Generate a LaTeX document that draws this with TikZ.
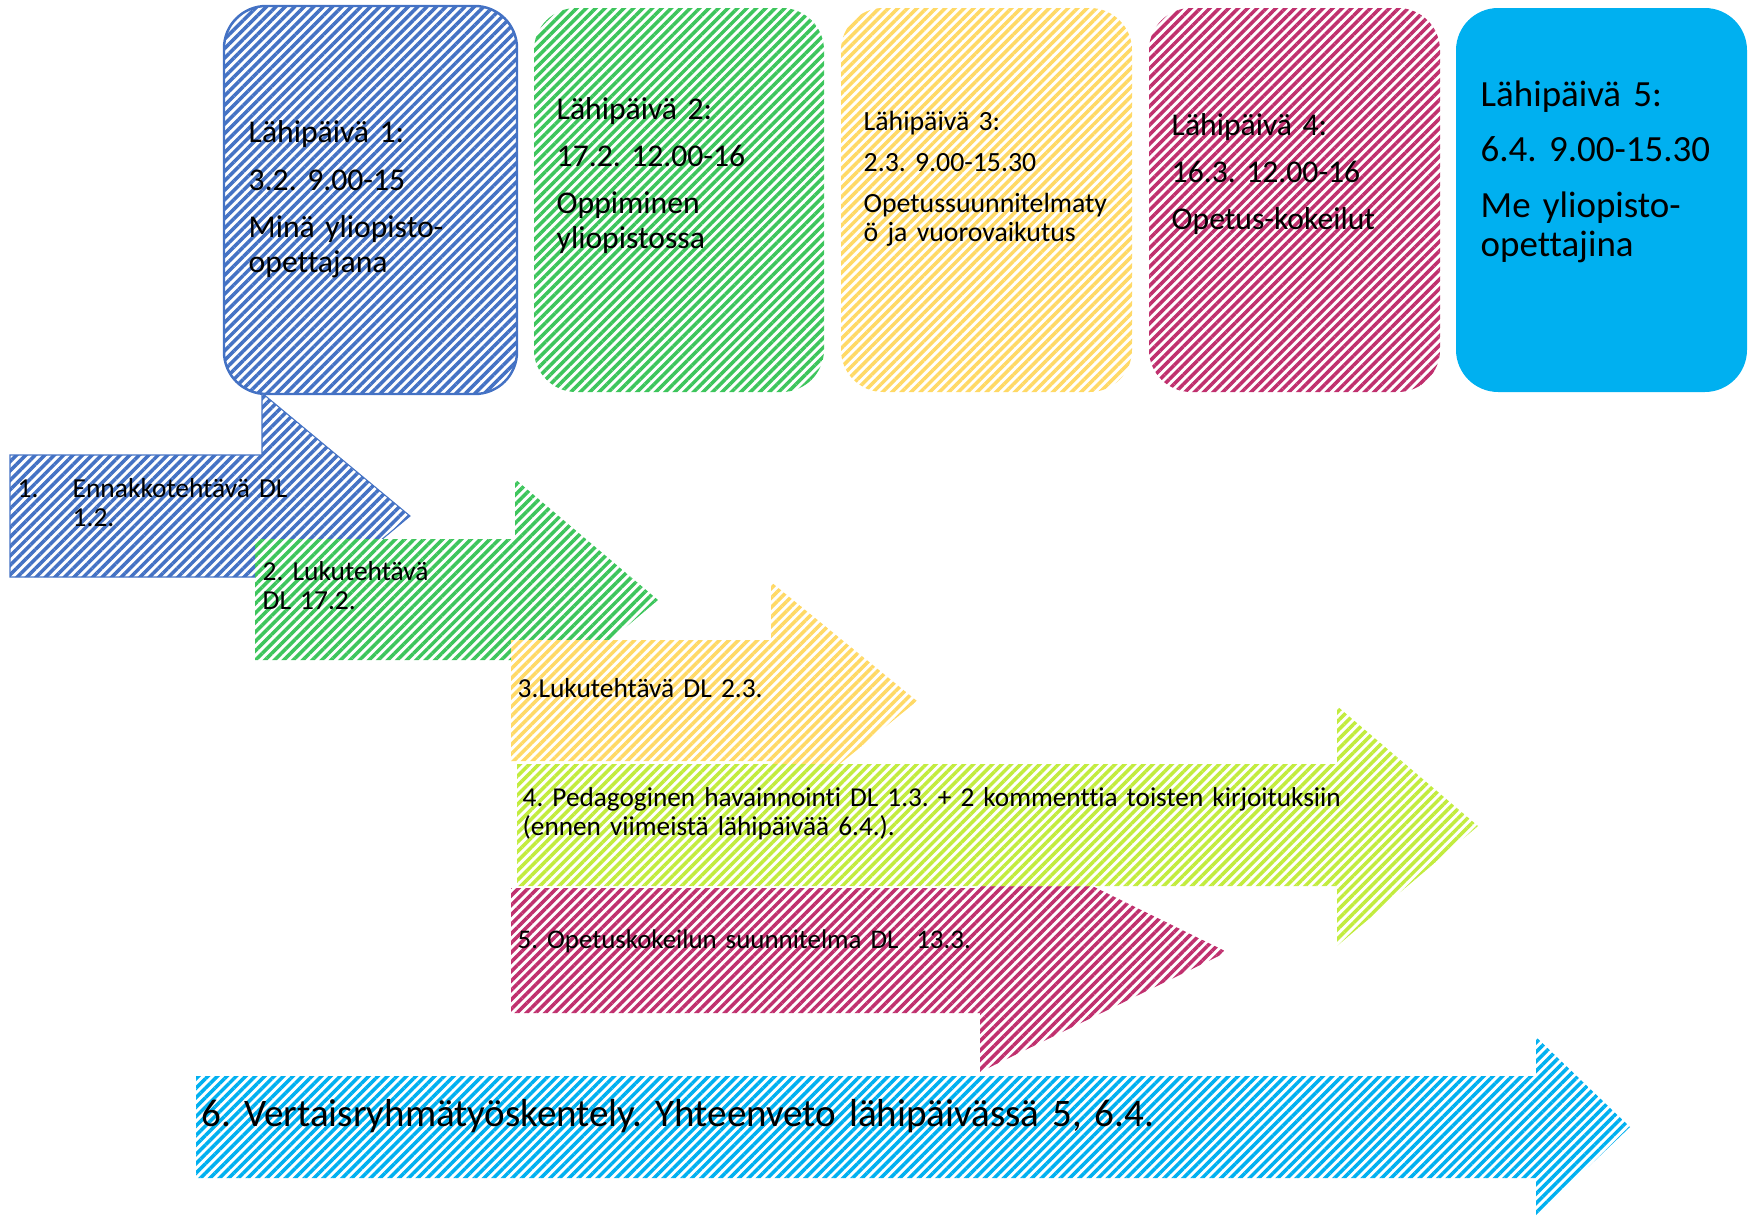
\documentclass[tikz,border=0pt]{standalone}
\usepackage{fontspec}
\setmainfont{Carlito}[Ligatures=NoCommon]
\usetikzlibrary{patterns.meta}
\definecolor{dayblue}{HTML}{4472C4}
\definecolor{daygreen}{HTML}{3DC55C}
\definecolor{dayyellow}{HTML}{FFD966}
\definecolor{daylime}{HTML}{C2EC3E}
\definecolor{daypink}{HTML}{C0306E}
\definecolor{daycyan}{HTML}{00B0F0}
\tikzset{
	stripes/.style={preaction={fill=white}, pattern={Lines[angle=45,distance=1.9pt,line width=1pt]}, pattern color=#1},
	daybox/.style={rounded corners=12pt},
	txt/.style={inner sep=0pt, anchor=base west, align=left, text width=#1},
	txt/.default=5cm
}
\def\daysize{\fontsize{9pt}{9.7pt}\selectfont}
\def\tasksize{\fontsize{7.8pt}{8.5pt}\selectfont}
\frenchspacing

\begin{document}
\begin{tikzpicture}[x=0.01cm, y=-0.01cm]
		\useasboundingbox (0,0) rectangle (1754,1218);
		%%%%% START %%%%%
		
		% contact days
		\draw[daybox, stripes=dayblue, draw=dayblue, line width=0.7pt] (224,6) rectangle (517,394);
		\node[txt, font=\daysize] (day1) at (248,143) {Lähipäivä 1:\\[3.8pt]3.2. 9.00-15\\[3.8pt]Minä yliopisto-\\opettajana};
		
		\path[daybox, stripes=daygreen] (534,8) rectangle (824,392);
		\node[txt, font=\daysize] (day2) at (556,119) {Lähipäivä 2:\\[3.8pt]17.2. 12.00-16\\[3.8pt]Oppiminen\\yliopistossa};
		
		\path[daybox, stripes=dayyellow] (841,8) rectangle (1132,392);
		\node[txt, font=\fontsize{7.9pt}{8.25pt}\selectfont] (day3) at (863,130) {Lähipäivä 3:\\[3.5pt]2.3. 9.00-15.30\\[3.5pt]Opetussuunnitelmaty\\ö ja vuorovaikutus};
		
		\path[daybox, stripes=daypink] (1149,8) rectangle (1440,392);
		\node[txt, font=\daysize] (day4) at (1171,135) {Lähipäivä 4:\\[3.8pt]16.3. 12.00-16\\[3.8pt]Opetus-kokeilut};
		
		\fill[daybox, daycyan] (1456,8) rectangle (1747,392);
		\node[txt, font=\fontsize{10.5pt}{11.1pt}\selectfont] (day5) at (1480,106) {Lähipäivä 5:\\[4.8pt]6.4. 9.00-15.30\\[4.8pt]Me yliopisto-\\opettajina};
		
		% tasks
		\path[stripes=dayblue, draw=dayblue, line width=0.3pt] (10,455) -- (262,455) -- (262,393) -- (410,516) -- (262,639) -- (262,577) -- (10,577) -- cycle;
		\node[txt=1cm, font=\tasksize] (task1no) at (17,497) {1.};
		\node[txt, font=\tasksize] (task1) at (72,497) {Ennakkotehtävä DL\\1.2.};
		
		\path[stripes=daygreen] (255,539) -- (515,539) -- (515,479) -- (658,600) -- (515,721) -- (515,660) -- (255,660) -- cycle;
		\node[txt, font=\tasksize] (task2) at (262,580) {2. Lukutehtävä\\DL 17.2.};
		
		\path[stripes=dayyellow] (511,640) -- (771,640) -- (771,582) -- (917,701) -- (771,820) -- (771,761) -- (511,761) -- cycle;
		\node[txt, font=\tasksize] (task3) at (517,697) {3.Lukutehtävä DL 2.3.};
		
		\path[stripes=daypink] (511,888) -- (980,888) -- (980,831) -- (1227,952) -- (980,1072) -- (980,1013) -- (511,1013) -- cycle;
		\node[txt, font=\fontsize{7.65pt}{8.5pt}\selectfont] (task5) at (517,948) {5. Opetuskokeilun suunnitelma DL\ \ 13.3.};
		
		\path[stripes=daylime] (517,764) -- (1337,764) -- (1337,706) -- (1478,826) -- (1337,946) -- (1337,886) -- (517,886) -- cycle;
		\node[txt=10cm, font=\fontsize{7.75pt}{8.5pt}\selectfont] (task4) at (522,806) {4. Pedagoginen havainnointi DL 1.3. + 2 kommenttia toisten kirjoituksiin\\(ennen viimeistä lähipäivää 6.4.).};
		
		\path[stripes=daycyan] (196,1076) -- (1536,1076) -- (1536,1037) -- (1630,1127) -- (1536,1217) -- (1536,1178) -- (196,1178) -- cycle;
		\node[txt=14cm, font=\fontsize{11.1pt}{12pt}\selectfont] (task6) at (201,1126) {6. Vertaisryhmätyöskentely. Yhteenveto lähipäivässä 5, 6.4.};
		
		%%%%% END %%%%%
\end{tikzpicture}
\end{document}
